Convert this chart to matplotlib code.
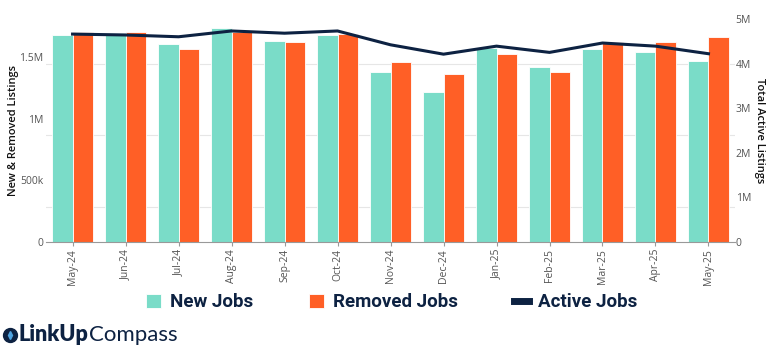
import matplotlib.pyplot as plt
from matplotlib.lines import Line2D
import numpy as np

# monthly job listing figures
months = ['May-24', 'Jun-24', 'Jul-24', 'Aug-24', 'Sep-24', 'Oct-24', 'Nov-24',
          'Dec-24', 'Jan-25', 'Feb-25', 'Mar-25', 'Apr-25', 'May-25']
new_jobs = [1.679e6, 1.690e6, 1.606e6, 1.738e6, 1.633e6, 1.679e6, 1.376e6,
            1.214e6, 1.571e6, 1.417e6, 1.563e6, 1.543e6, 1.468e6]
removed_jobs = [1.703e6, 1.700e6, 1.565e6, 1.703e6, 1.625e6, 1.689e6, 1.462e6,
                1.363e6, 1.525e6, 1.381e6, 1.617e6, 1.625e6, 1.660e6]
active_jobs = [4.66e6, 4.64e6, 4.60e6, 4.73e6, 4.68e6, 4.73e6, 4.42e6,
               4.21e6, 4.39e6, 4.25e6, 4.46e6, 4.39e6, 4.22e6]

left_ticks = [0, 500e3, 1e6, 1.5e6]
left_labels = ['0', '500k', '1M', '1.5M']
right_ticks = [0, 1e6, 2e6, 3e6, 4e6, 5e6]
right_labels = ['0', '1M', '2M', '3M', '4M', '5M']
grid_levels = [0.285e6, 0.865e6, 1.445e6]

TEAL = '#7adcc8'
ORANGE = '#ff5f26'
NAVY = '#0d2242'
GREY = '#555555'

plt.rcParams['font.family'] = ['Open Sans', 'DejaVu Sans']

fig = plt.figure(figsize=(7.68, 3.57), dpi=100)
ax = fig.add_axes([0.060, 0.322, 0.897, 0.625])
ax2 = ax.twinx()

x = np.arange(len(months))
w = 0.385
b1 = ax.bar(x - w / 2, new_jobs, w, color=TEAL, edgecolor='white', linewidth=0.6, zorder=2)
b2 = ax.bar(x + w / 2, removed_jobs, w, color=ORANGE, edgecolor='white', linewidth=0.6, zorder=2)
ln, = ax2.plot(x, active_jobs, color=NAVY, linewidth=2.2, zorder=3)

ax.set_xlim(-0.5, len(months) - 0.5)
ax.set_ylim(0, 1.808e6)
ax2.set_ylim(0, 5e6)

ax.set_yticks(left_ticks)
ax.set_yticklabels(left_labels)
ax.set_yticks(grid_levels, minor=True)
ax.grid(False)
ax.grid(True, which='minor', axis='y', color='#e6e6e6', linewidth=0.8, zorder=0)
ax.tick_params(axis='y', which='minor', length=0)
ax.set_axisbelow(True)
ax2.set_yticks(right_ticks)
ax2.set_yticklabels(right_labels)

ax.set_xticks(x)
ax.set_xticklabels(months, rotation=90, fontsize=7.5, color=GREY)
ax.tick_params(axis='x', length=3, color='#999999', pad=2)
ax.tick_params(axis='y', which='major', length=0, labelsize=7.5, labelcolor=GREY, pad=2)
ax2.tick_params(axis='y', length=0, labelsize=7.5, labelcolor=GREY, pad=0.5)

for a in (ax, ax2):
    for s in ('top', 'left', 'right'):
        a.spines[s].set_visible(False)
ax.spines['bottom'].set_color('#999999')
ax2.spines['bottom'].set_visible(False)

ax.set_ylabel('New & Removed Listings', fontsize=8, fontweight='semibold', color='#111111')
ax.yaxis.set_label_coords(-0.039, 0.5)
ax2.set_ylabel('Total Active Listings', fontsize=8, fontweight='semibold', color='#111111',
               rotation=270, va='center')
ax2.yaxis.set_label_coords(1.036, 0.5)

leg = fig.legend([b1, b2, ln], ['New Jobs', 'Removed Jobs', 'Active Jobs'],
                 loc='center', bbox_to_anchor=(0.510, 0.153), ncol=3, frameon=False,
                 handlelength=0.8, handleheight=0.8, handletextpad=0.45, columnspacing=3.0,
                 prop={'family': ['Roboto', 'DejaVu Sans'], 'weight': 'bold', 'size': 13.5})
for t in leg.get_texts():
    t.set_color(NAVY)
leg.legend_handles[2].set_linewidth(5)

# logo
fig.add_artist(Line2D([9.5 / 768], [0.062], marker='o', markersize=10, color=NAVY,
                      transform=fig.transFigure))
fig.add_artist(Line2D([9.5 / 768], [0.062], marker='d', markersize=4, color='#4fa3e0',
                      transform=fig.transFigure))
fig.text(19 / 768, 0.062, 'LinkUp', fontsize=15.5, color=NAVY, va='center', ha='left',
         family='Lato', fontweight='heavy')
fig.text(89 / 768, 0.062, 'Compass', fontsize=16, color=NAVY, va='center', ha='left',
         family='Lato', fontweight='normal')

fig.savefig('out.png', dpi=100)
